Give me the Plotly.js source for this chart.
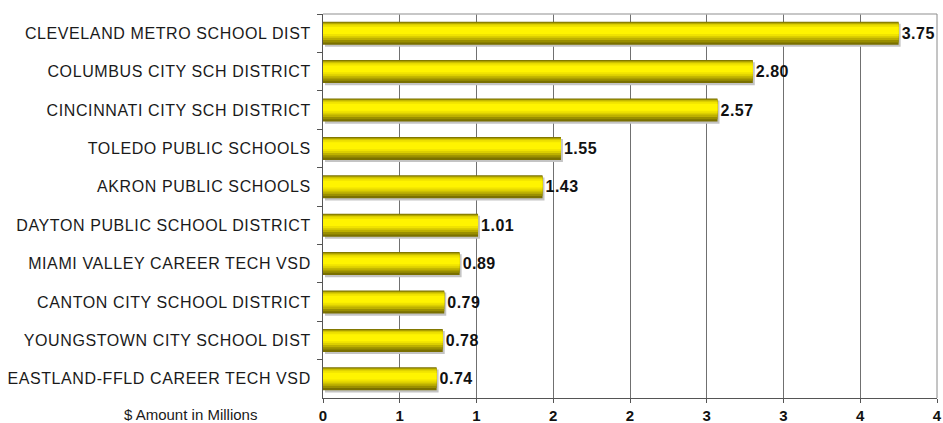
<!DOCTYPE html>
<html>
<head>
<meta charset="utf-8">
<script src="https://cdn.plot.ly/plotly-3.0.1.min.js"></script>
<style>
  html, body { margin: 0; padding: 0; background: #fff; }
  #chart { width: 943px; height: 423px; }
  .ytick text { letter-spacing: 0.6px; }
  .bartext { letter-spacing: 0.5px; }
</style>
</head>
<body>
<div id="chart"></div>
<script>
// ---- data ----
const districts = [
  "CLEVELAND METRO SCHOOL DIST",
  "COLUMBUS CITY SCH DISTRICT",
  "CINCINNATI CITY SCH DISTRICT",
  "TOLEDO PUBLIC SCHOOLS",
  "AKRON PUBLIC SCHOOLS",
  "DAYTON PUBLIC SCHOOL DISTRICT",
  "MIAMI VALLEY CAREER TECH VSD",
  "CANTON CITY SCHOOL DISTRICT",
  "YOUNGSTOWN CITY SCHOOL DIST",
  "EASTLAND-FFLD CAREER TECH VSD"
];
const amounts = [3.75, 2.80, 2.57, 1.55, 1.43, 1.01, 0.89, 0.79, 0.78, 0.74];
const xTickVals = [0, 0.5, 1, 1.5, 2, 2.5, 3, 3.5, 4];
const xTickText = ["0", "1", "1", "2", "2", "3", "3", "4", "4"];
const axisNote = "$ Amount in Millions";

// ---- styling (gradient simulated by stacked overlay layers) ----
const FONT = "Liberation Sans, Arial, Helvetica, sans-serif";
const layers = [
  { w: 0.60, off: -0.30, c: "#7a7000" },
  { w: 0.52, off: -0.28, c: "#9a8f00" },
  { w: 0.44, off: -0.26, c: "#bdb000" },
  { w: 0.36, off: -0.24, c: "#dccf00" },
  { w: 0.28, off: -0.21, c: "#f0e300" },
  { w: 0.18, off: -0.16, c: "#fff400" }
];

const traces = [];
// shadow
traces.push({
  type: "bar", orientation: "h",
  y: districts, x: amounts,
  base: 0.013,
  width: 0.6, offset: -0.30 + 0.055,
  marker: { color: "#c4c4c4", line: { width: 0 } },
  hoverinfo: "skip", showlegend: false
});
layers.forEach((L, i) => {
  const t = {
    type: "bar", orientation: "h",
    y: districts, x: amounts,
    width: L.w, offset: L.off,
    marker: { color: L.c, line: { width: 0 } },
    hoverinfo: "skip", showlegend: false
  };
  if (i === 0) {
    t.texttemplate = "%{x:.2f}";
    t.textposition = "outside";
    t.constraintext = "none";
    t.cliponaxis = false;
    t.textfont = { family: FONT, size: 16, color: "#111", weight: "bold" };
  }
  traces.push(t);
});

const layout = {
  width: 943, height: 423,
  margin: { l: 323, r: 6, t: 14, b: 25, pad: 0 },
  paper_bgcolor: "#ffffff", plot_bgcolor: "#ffffff",
  barmode: "overlay",
  showlegend: false,
  xaxis: {
    range: [0, 4],
    tickmode: "array", tickvals: xTickVals, ticktext: xTickText,
    showgrid: true, gridcolor: "#707070", gridwidth: 1,
    zeroline: false,
    showline: true, linecolor: "#555555", linewidth: 1,
    ticks: "outside", ticklen: 4, tickcolor: "#555555",
    tickfont: { family: FONT, size: 15, color: "#111", weight: "bold" },
    fixedrange: true
  },
  yaxis: {
    type: "category",
    categoryorder: "array", categoryarray: districts,
    range: [9.5, -0.5],
    showgrid: false, zeroline: false,
    showline: true, linecolor: "#555555", linewidth: 1,
    ticks: "outside", ticklen: 5, tickcolor: "#555555",
    tickson: "boundaries",
    ticklabelstandoff: 8,
    tickfont: { family: FONT, size: 16, color: "#1a1a1a" },
    fixedrange: true
  },
  shapes: [
    { type: "line", xref: "paper", yref: "paper", x0: 0, x1: 1, y0: 1, y1: 1,
      line: { color: "#b4b4b4", width: 1.5 } },
    { type: "line", xref: "paper", yref: "paper", x0: 1, x1: 1, y0: 0, y1: 1,
      line: { color: "#8a8a8a", width: 1 } }
  ],
  annotations: [
    { text: axisNote, xref: "paper", yref: "paper", x: -0.105, y: 0,
      xanchor: "right", yanchor: "top", yshift: -6, showarrow: false,
      font: { family: FONT, size: 15, color: "#1a1a1a" } }
  ]
};

Plotly.newPlot("chart", traces, layout, { staticPlot: true, displayModeBar: false });
</script>
</body>
</html>
